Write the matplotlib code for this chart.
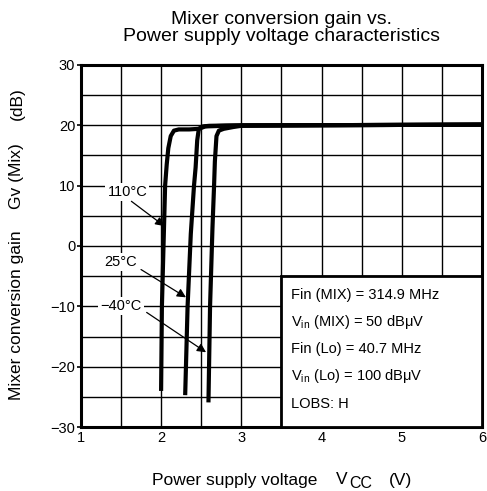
import numpy as np
import matplotlib.pyplot as plt

plt.rcParams['font.family'] = ['Liberation Sans', 'DejaVu Sans']

# curve data: (Vcc, gain dB)
vcc_110 = [2.00, 2.01, 2.03, 2.05, 2.07, 2.09, 2.12, 2.16, 2.22, 2.35, 2.47, 2.55, 2.80, 3.20, 4.0, 5.0, 6.0]
gain_110 = [-24.0, -10.0, 0.0, 10.0, 13.5, 16.2, 18.2, 19.1, 19.3, 19.3, 19.4, 19.8, 19.9, 19.95, 20.0, 20.05, 20.1]
vcc_25 = [2.30, 2.33, 2.37, 2.41, 2.43, 2.45, 2.47, 2.52, 2.60, 2.80, 3.00, 4.0, 5.0, 6.0]
gain_25 = [-24.7, -10.0, 2.0, 10.0, 13.0, 17.5, 19.4, 19.8, 19.9, 19.95, 20.0, 20.0, 20.05, 20.1]
vcc_m40 = [2.59, 2.61, 2.64, 2.66, 2.67, 2.69, 2.72, 2.78, 2.90, 3.00, 4.0, 5.0, 6.0]
gain_m40 = [-25.9, -10.0, 3.0, 10.0, 14.0, 18.2, 19.1, 19.4, 19.7, 19.9, 20.0, 20.05, 20.1]

labels = ['110°C', '25°C', '−40°C']
label_pos = [(1.58, 8.9), (1.50, -2.7), (1.50, -10.0)]
arrow_tail = [(1.63, 7.4), (1.75, -3.9), (1.82, -11.0)]
arrow_head = [(2.04, 3.3), (2.31, -8.5), (2.56, -17.6)]

conditions = ['Fin (MIX) = 314.9 MHz',
              r'V$_{\mathregular{in}}$ (MIX) = 50 dB$\mathregular{\mu}$V',
              'Fin (Lo) = 40.7 MHz',
              r'V$_{\mathregular{in}}$ (Lo) = 100 dB$\mathregular{\mu}$V',
              'LOBS: H']

W, H = 487, 491
fig = plt.figure(figsize=(W / 100, H / 100), dpi=100)
ax = fig.add_axes([0.166, 0.130, 0.824, 0.738])

ax.set_xlim(1, 6)
ax.set_ylim(-30, 30)
ax.set_xticks(np.arange(1, 7, 1))
ax.set_yticks(np.arange(-30, 31, 10))
ax.set_yticklabels(['−30', '−20', '−10', '0', '10', '20', '30'])
ax.set_xticks(np.arange(1, 6.01, 0.5), minor=True)
ax.set_yticks(np.arange(-30, 31, 5), minor=True)
ax.grid(which='both', color='black', linewidth=1.0)
ax.set_axisbelow(True)
ax.tick_params(axis='x', which='both', length=0, labelsize=10.5, pad=3)
ax.tick_params(axis='y', which='major', length=3, width=1.2, labelsize=10.5, pad=1)
ax.tick_params(axis='y', which='minor', length=0)
for sp in ax.spines.values():
    sp.set_linewidth(2.2)

for x, y in [(vcc_110, gain_110), (vcc_25, gain_25), (vcc_m40, gain_m40)]:
    ax.plot(x, y, color='black', linewidth=3.0, solid_capstyle='butt', zorder=3)

for lab, pos, tail, head in zip(labels, label_pos, arrow_tail, arrow_head):
    ax.text(pos[0], pos[1], lab, fontsize=10.5, ha='center', va='center',
            bbox=dict(facecolor='white', edgecolor='none', pad=1.5), zorder=4)
    ax.annotate('', xy=head, xytext=tail,
                arrowprops=dict(arrowstyle='-|>', color='black', lw=0.9,
                                mutation_scale=13, shrinkA=0, shrinkB=0), zorder=4)

# conditions box
ax.add_patch(plt.Rectangle((3.5, -30), 2.5, 25, facecolor='white', edgecolor='black',
                           linewidth=2.0, zorder=5))
for i, c in enumerate(conditions):
    ax.text(3.62, -8.1 - i * 4.5, c, fontsize=10.5, ha='left', va='center', zorder=6)

fig.text(0.578, 0.943, 'Mixer conversion gain vs.\nPower supply voltage characteristics',
         ha='center', va='center', fontsize=14, linespacing=1.0)

# x label pieces (pixel positions of the reference)
fig.text(234.5 / W, 1 - 480 / H, 'Power supply voltage', ha='center', va='center', fontsize=12.5)
fig.text(342 / W, 1 - 479 / H, 'V', ha='center', va='center', fontsize=12.5)
fig.text(361 / W, 1 - 483 / H, 'CC', ha='center', va='center', fontsize=11.5)
fig.text(401 / W, 1 - 480 / H, '(V)', ha='center', va='center', fontsize=12.5)

# y label pieces
fig.text(17 / W, 1 - 315 / H, 'Mixer conversion gain', ha='center', va='center',
         rotation=90, fontsize=12.5)
fig.text(17 / W, 1 - 176 / H, 'Gv (Mix)', ha='center', va='center',
         rotation=90, fontsize=12.5)
fig.text(17 / W, 1 - 104 / H, '(dB)', ha='center', va='center',
         rotation=90, fontsize=12.5)

fig.savefig('out.png', dpi=100)
